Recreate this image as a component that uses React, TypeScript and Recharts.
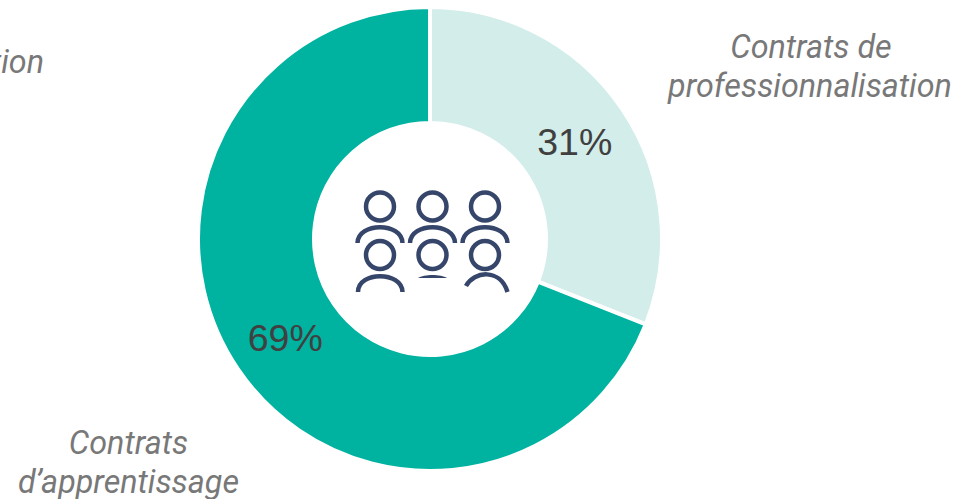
import { Pie, PieChart, Cell } from 'recharts';

const CATEGORIES = ['Contrats de professionnalisation', "Contrats d'apprentissage"];
const SHARES = [31, 69];
const COLORS = ['#D3EDEA', '#00B2A0'];

const HEAD_X = [380, 432.5, 485];
const RADIAN = Math.PI / 180;

const rows = CATEGORIES.map((name, index) => ({ name, value: SHARES[index] }));

const captionStyle = {
  fontFamily: 'Roboto, sans-serif',
  fontStyle: 'italic',
  fontSize: 32.3,
  fill: '#787878',
} as const;

function renderShare(props: any) {
  const { cx, cy, midAngle, innerRadius, outerRadius, value } = props;
  const radius = (innerRadius + outerRadius) / 2 + 1;
  return (
    <text
      x={cx + radius * Math.cos(-midAngle * RADIAN)}
      y={cy + 1 + radius * Math.sin(-midAngle * RADIAN)}
      textAnchor="middle"
      dominantBaseline="central"
      fontFamily="Liberation Sans, Arial, sans-serif"
      fontSize={37.5}
      fill="#404040"
    >
      {value}%
    </text>
  );
}

function PeopleIcon() {
  const line = { fill: 'none', stroke: '#36466B', strokeWidth: 4.5 };
  return (
    <svg width={968} height={499} style={{ position: 'absolute', left: 0, top: 0, pointerEvents: 'none' }}>
      {HEAD_X.map((x) => (
        <g key={x}>
          <circle cx={x} cy={206.5} r={14} {...line} />
          <path d={`M ${x - 22.5} 243 C ${x - 22} 222, ${x + 22} 222, ${x + 22.5} 243`} {...line} />
          <circle cx={x} cy={255} r={14} {...line} />
        </g>
      ))}
      <path d="M 358 292 C 358 271, 402 271, 402.5 292" {...line} />
      <path d="M 418 278 C 424 274, 441 274, 447 278 Z" fill="#36466B" />
      <path d="M 466 286 C 474 271, 500 268, 507.5 292" {...line} />
    </svg>
  );
}

export default function App() {
  return (
    <div style={{ position: 'absolute', left: 0, top: 0, width: 968, height: 499, overflow: 'hidden', background: '#fff' }}>
      <PieChart width={968} height={499} margin={{ top: 0, right: 0, bottom: 0, left: 0 }}>
        <Pie
          data={rows}
          dataKey="value"
          nameKey="name"
          cx={430}
          cy={239}
          innerRadius={116}
          outerRadius={232}
          startAngle={90}
          endAngle={-270}
          stroke="#ffffff"
          strokeWidth={4}
          label={renderShare}
          labelLine={false}
          isAnimationActive={false}
        >
          {rows.map((row, index) => (
            <Cell key={row.name} fill={COLORS[index]} />
          ))}
        </Pie>
        <text {...captionStyle} textAnchor="end" x={44} y={73}>Formation</text>
        <text {...captionStyle} textAnchor="middle" x={811} y={58}>Contrats de</text>
        <text {...captionStyle} textAnchor="middle" x={810} y={97}>professionnalisation</text>
        <text {...captionStyle} textAnchor="middle" x={128.5} y={454}>Contrats</text>
        <text {...captionStyle} textAnchor="middle" x={128.5} y={493}>d’apprentissage</text>
      </PieChart>
      <PeopleIcon />
    </div>
  );
}
